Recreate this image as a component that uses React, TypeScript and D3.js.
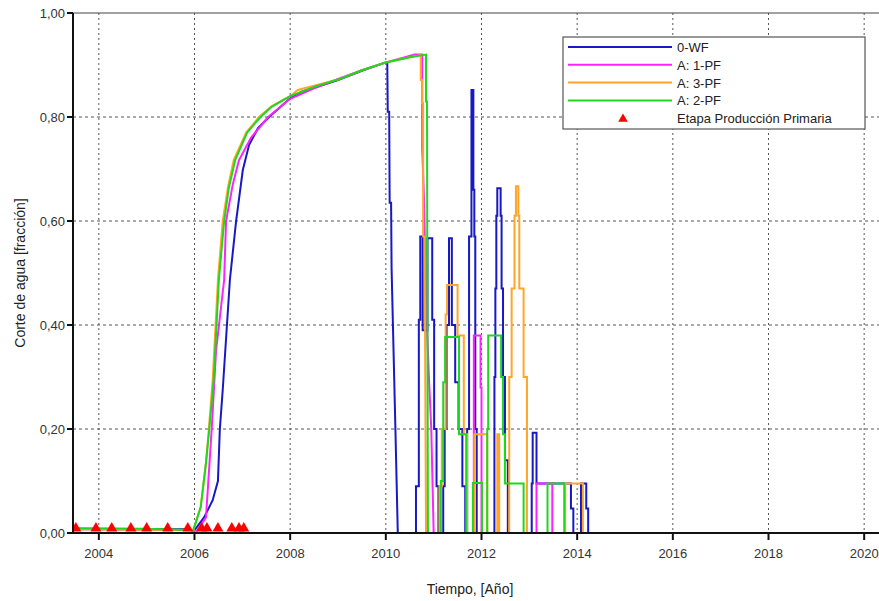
import React from 'react'
import * as d3 from 'd3'

// series: [year, water cut]
const wf0: [number, number][] = [
  [2003.46, 0.008], [2005.9, 0.007], [2005.99, 0.004], [2006.2, 0.03], [2006.38, 0.063], [2006.49, 0.1],
  [2006.53, 0.2], [2006.59, 0.275], [2006.74, 0.487], [2006.87, 0.6], [2007.01, 0.698], [2007.14, 0.746],
  [2007.33, 0.779], [2007.56, 0.8], [2008.0, 0.836], [2008.23, 0.848], [2009.0, 0.871], [2009.5, 0.889],
  [2010.0, 0.905], [2010.03, 0.905], [2010.04, 0.81], [2010.07, 0.81], [2010.08, 0.635], [2010.11, 0.635],
  [2010.12, 0.51], [2010.2, 0.2], [2010.25, 0],
  [2010.63, 0], [2010.63, 0.09], [2010.69, 0.09], [2010.69, 0.41], [2010.72, 0.41], [2010.72, 0.57],
  [2010.77, 0.57], [2010.77, 0.39], [2010.87, 0.39], [2010.87, 0.567], [2010.97, 0.567], [2010.97, 0.41],
  [2011.01, 0.41], [2011.01, 0.2], [2011.06, 0.2], [2011.06, 0.09], [2011.1, 0.09], [2011.1, 0],
  [2011.2, 0], [2011.2, 0.09], [2011.23, 0.09], [2011.23, 0.2], [2011.27, 0.2], [2011.27, 0.4],
  [2011.32, 0.4], [2011.32, 0.567], [2011.38, 0.567], [2011.38, 0.4], [2011.45, 0.4], [2011.45, 0.29],
  [2011.52, 0.29], [2011.52, 0.2], [2011.6, 0.2], [2011.6, 0.09], [2011.66, 0.09], [2011.66, 0],
  [2011.7, 0], [2011.7, 0.2], [2011.74, 0.2], [2011.74, 0.57], [2011.79, 0.57], [2011.79, 0.852],
  [2011.83, 0.852], [2011.83, 0.66], [2011.85, 0.66], [2011.85, 0.57], [2011.87, 0.57], [2011.87, 0.2],
  [2011.9, 0.2], [2011.9, 0],
  [2012.27, 0], [2012.27, 0.3], [2012.29, 0.3], [2012.29, 0.47], [2012.31, 0.47], [2012.31, 0.61],
  [2012.33, 0.61], [2012.33, 0.663], [2012.4, 0.663], [2012.4, 0.61], [2012.42, 0.61], [2012.42, 0.47],
  [2012.45, 0.47], [2012.45, 0.3], [2012.49, 0.3], [2012.49, 0.14], [2012.55, 0.14], [2012.55, 0],
  [2013.05, 0], [2013.05, 0.095], [2013.07, 0.095], [2013.07, 0.193], [2013.15, 0.193], [2013.15, 0.095],
  [2013.87, 0.095], [2013.87, 0.047], [2013.92, 0.047], [2013.92, 0], [2014.08, 0], [2014.08, 0.095],
  [2014.19, 0.095], [2014.19, 0.047], [2014.23, 0.047], [2014.23, 0], [2020.31, 0],
]

const pf1: [number, number][] = [
  [2003.46, 0.007], [2005.9, 0.006], [2006.05, 0.004], [2006.24, 0.03], [2006.36, 0.2], [2006.45, 0.35],
  [2006.62, 0.487], [2006.66, 0.6], [2006.8, 0.67], [2006.93, 0.717], [2007.18, 0.76], [2007.54, 0.8],
  [2008.0, 0.835], [2008.5, 0.855], [2009.0, 0.873], [2009.5, 0.89], [2010.0, 0.905], [2010.4, 0.915],
  [2010.6, 0.92], [2010.76, 0.92], [2010.76, 0.74], [2010.8, 0.64], [2010.84, 0.45], [2010.9, 0.3],
  [2010.95, 0.2], [2011.0, 0],
  [2011.84, 0], [2011.84, 0.38], [2011.98, 0.38], [2011.98, 0.28], [2012.0, 0.28], [2012.0, 0],
  [2013.15, 0], [2013.15, 0.095], [2013.48, 0.095], [2013.48, 0], [2020.31, 0],
]

const pf3: [number, number][] = [
  [2003.46, 0.007], [2005.9, 0.006], [2005.97, 0.004], [2006.13, 0.05], [2006.24, 0.135], [2006.3, 0.2],
  [2006.38, 0.294], [2006.49, 0.487], [2006.59, 0.6], [2006.7, 0.665], [2006.82, 0.717], [2007.08, 0.77],
  [2007.35, 0.8], [2007.6, 0.82], [2008.0, 0.84], [2008.16, 0.852], [2009.0, 0.872], [2009.5, 0.89],
  [2010.0, 0.905], [2010.5, 0.915], [2010.73, 0.919], [2010.73, 0.871], [2010.76, 0.871], [2010.76, 0.827],
  [2010.78, 0.827], [2010.78, 0.57], [2010.81, 0.57], [2010.84, 0],
  [2011.12, 0], [2011.12, 0.09], [2011.17, 0.09], [2011.17, 0.2], [2011.25, 0.2], [2011.25, 0.42],
  [2011.28, 0.42], [2011.28, 0.477], [2011.5, 0.477], [2011.5, 0.38], [2011.63, 0.38], [2011.63, 0.19],
  [2011.7, 0.19], [2011.7, 0], [2011.85, 0], [2011.85, 0.19], [2012.12, 0.19], [2012.12, 0],
  [2012.33, 0], [2012.33, 0.19], [2012.37, 0.19], [2012.37, 0],
  [2012.58, 0], [2012.58, 0.3], [2012.63, 0.3], [2012.63, 0.47], [2012.69, 0.47], [2012.69, 0.61],
  [2012.72, 0.61], [2012.72, 0.667], [2012.77, 0.667], [2012.77, 0.61], [2012.79, 0.61], [2012.79, 0.47],
  [2012.88, 0.47], [2012.88, 0.3], [2012.95, 0.3], [2012.95, 0],
  [2013.75, 0], [2013.75, 0.095], [2014.12, 0.095], [2014.12, 0], [2020.31, 0],
]

const pf2: [number, number][] = [
  [2003.46, 0.009], [2005.0, 0.008], [2005.9, 0.006], [2005.97, 0.004], [2006.13, 0.05], [2006.24, 0.135],
  [2006.31, 0.2], [2006.4, 0.294], [2006.51, 0.487], [2006.62, 0.6], [2006.72, 0.665], [2006.85, 0.717],
  [2007.1, 0.77], [2007.38, 0.8], [2007.62, 0.82], [2008.0, 0.84], [2008.5, 0.858], [2009.0, 0.872],
  [2009.5, 0.89], [2010.0, 0.905], [2010.5, 0.915], [2010.84, 0.92], [2010.84, 0.83], [2010.86, 0.83],
  [2010.88, 0],
  [2011.15, 0], [2011.15, 0.1], [2011.2, 0.1], [2011.2, 0.29], [2011.24, 0.29], [2011.24, 0.377],
  [2011.53, 0.377], [2011.53, 0.19], [2011.68, 0.19], [2011.68, 0],
  [2011.82, 0], [2011.82, 0.096], [2012.01, 0.096], [2012.01, 0], [2012.12, 0], [2012.12, 0.2],
  [2012.14, 0.2], [2012.14, 0.38], [2012.41, 0.38], [2012.41, 0.3], [2012.45, 0.3], [2012.45, 0.19],
  [2012.49, 0.19], [2012.49, 0.095], [2012.88, 0.095], [2012.88, 0],
  [2013.38, 0], [2013.38, 0.095], [2013.73, 0.095], [2013.73, 0], [2020.0, 0],
]

const primaryYears = [2003.52, 2003.94, 2004.27, 2004.67, 2005.0, 2005.44, 2005.86, 2006.15, 2006.26, 2006.49, 2006.78, 2006.93, 2007.03]
const primaryValues = [0.007, 0.007, 0.007, 0.007, 0.007, 0.007, 0.007, 0.007, 0.007, 0.007, 0.007, 0.007, 0.007]

const yearTicks = [2004, 2006, 2008, 2010, 2012, 2014, 2016, 2018, 2020]
const cutTicks = [0, 0.2, 0.4, 0.6, 0.8, 1.0]

const seriesNames = ['0-WF', 'A: 1-PF', 'A: 3-PF', 'A: 2-PF']
const seriesColors = ['#1818c4', '#ff22ff', '#ffa52a', '#1ed81e']
const seriesData = [wf0, pf1, pf3, pf2]

const font = '"Liberation Sans", Arial, sans-serif'

const App = () => {
  const left = 73, right = 879, top = 13, bottom = 533
  const x = d3.scaleLinear().domain([2003.46, 2020.31]).range([left, right])
  const y = d3.scaleLinear().domain([0, 1]).range([bottom, top])
  const line = d3.line<[number, number]>().x(d => x(d[0])).y(d => y(d[1]))
  const tri = d3.symbol(d3.symbolTriangle).size(52)()
  const legendTri = d3.symbol(d3.symbolTriangle).size(40)()

  const legendX = 563, legendY = 37
  return (
    <svg width={879} height={601} style={{ position: 'absolute', left: 0, top: 0, background: '#fff' }}>
      <defs>
        <clipPath id="plot"><rect x={left} y={top - 2} width={right - left} height={bottom - top + 4} /></clipPath>
      </defs>
      {/* grid */}
      {yearTicks.map(t => (
        <line key={`gx${t}`} x1={x(t)} x2={x(t)} y1={top} y2={bottom} stroke="#555" strokeDasharray="2,3" />
      ))}
      {cutTicks.filter(t => t > 0 && t < 1).map(t => (
        <line key={`gy${t}`} x1={left} x2={right} y1={y(t)} y2={y(t)} stroke="#555" strokeDasharray="3,3" />
      ))}
      <line x1={left} x2={right} y1={top} y2={top} stroke="#444" strokeWidth={1} />
      {/* series */}
      <g clipPath="url(#plot)">
        {seriesData.map((s, i) => (
          <path key={seriesNames[i]} d={line(s) || ''} fill="none" stroke={seriesColors[i]} strokeWidth={2} />
        ))}
        {primaryYears.map((t, i) => (
          <path key={`p${t}`} d={tri || ''} transform={`translate(${x(t)},${y(primaryValues[i]) - 1})`} fill="#ff0000" />
        ))}
      </g>
      {/* axes */}
      <line x1={left} x2={right} y1={bottom} y2={bottom} stroke="#111" strokeWidth={2} />
      <line x1={left} x2={left} y1={top} y2={bottom + 1} stroke="#111" strokeWidth={2} />
      {cutTicks.map(t => (
        <g key={`yt${t}`}>
          <line x1={left - 6} x2={left} y1={y(t)} y2={y(t)} stroke="#111" strokeWidth={2} />
          <text x={left - 8} y={y(t) + 4.5} textAnchor="end" fontFamily={font} fontSize={13} fill="#333">
            {d3.format('.2f')(t).replace('.', ',')}
          </text>
        </g>
      ))}
      {yearTicks.map(t => (
        <g key={`xt${t}`}>
          <line x1={x(t)} x2={x(t)} y1={bottom} y2={bottom + 7} stroke="#111" strokeWidth={2} />
          <text x={x(t)} y={bottom + 25} textAnchor="middle" fontFamily={font} fontSize={13} fill="#333">{t}</text>
        </g>
      ))}
      <text transform={`translate(25,${(top + bottom) / 2}) rotate(-90)`} textAnchor="middle" fontFamily={font} fontSize={14} fill="#222">
        Corte de agua [fracción]
      </text>
      <text x={470} y={594} textAnchor="middle" fontFamily={font} fontSize={14} fill="#222">Tiempo, [Año]</text>
      {/* legend */}
      <g>
        <rect x={legendX} y={legendY} width={302} height={92} fill="#fff" stroke="#555" strokeWidth={1.2} />
        {seriesNames.map((n, i) => (
          <g key={`lg${n}`}>
            <line x1={legendX + 5} x2={legendX + 109} y1={legendY + 10 + i * 17.8} y2={legendY + 10 + i * 17.8} stroke={seriesColors[i]} strokeWidth={2} />
            <text x={legendX + 114} y={legendY + 15 + i * 17.8} fontFamily={font} fontSize={13} fill="#222">{n}</text>
          </g>
        ))}
        <path d={legendTri || ''} transform={`translate(${legendX + 60},${legendY + 82})`} fill="#ff0000" />
        <text x={legendX + 114} y={legendY + 86} fontFamily={font} fontSize={13} fill="#222">Etapa Producción Primaria</text>
      </g>
    </svg>
  )
}

export default App
